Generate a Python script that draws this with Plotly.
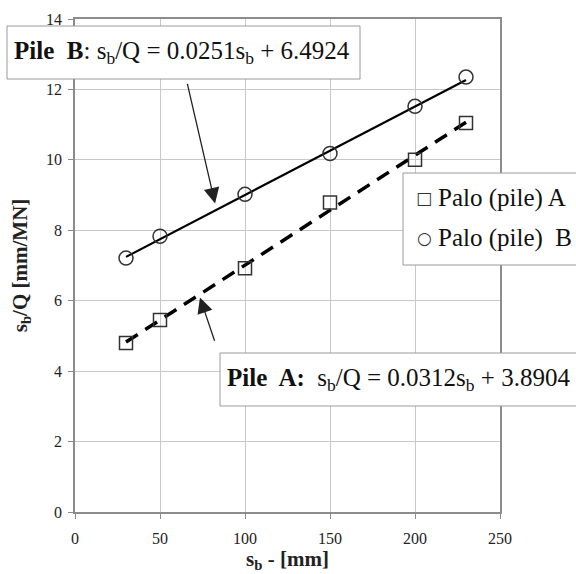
import plotly.graph_objects as go

sb = [30, 50, 100, 150, 200, 230]
pile_a = [4.80, 5.45, 6.92, 8.79, 10.0, 11.05]
pile_b = [7.21, 7.83, 9.02, 10.18, 11.52, 12.35]

# trend-line coefficients as printed on the chart
slope_a, icpt_a = 0.0312, 3.8904
slope_b, icpt_b = 0.0251, 6.4924
trend_x = [30, 230]

x_ticks = [0, 50, 100, 150, 200, 250]
y_ticks = [0, 2, 4, 6, 8, 10, 12, 14]

series_names = ["Palo (pile) A", "Palo (pile)\u00a0 B"]
legend_glyphs = ["\u25a1", "\u25cb"]

FONT = "Liberation Serif"
W, H = 576, 574
L, R, T, B = 75, 76, 19, 62
pw, ph = W - L - R, H - T - B

def px_x(p):
    return (p - L) / pw

def px_y(p):
    return (H - B - p) / ph

fig = go.Figure()

fig.add_trace(go.Scatter(
    x=trend_x, y=[slope_b * v + icpt_b for v in trend_x], mode="lines",
    line=dict(color="black", width=2.2), showlegend=False, hoverinfo="skip"))
fig.add_trace(go.Scatter(
    x=trend_x, y=[slope_a * v + icpt_a for v in trend_x], mode="lines",
    line=dict(color="black", width=3.5, dash="14px,9px"), showlegend=False, hoverinfo="skip"))

fig.add_trace(go.Scatter(
    x=sb, y=pile_a, mode="markers", name=series_names[0], showlegend=False,
    marker=dict(symbol="square-open", size=13, color="#333333", line=dict(width=1.5))))
fig.add_trace(go.Scatter(
    x=sb, y=pile_b, mode="markers", name=series_names[1], showlegend=False,
    marker=dict(symbol="circle-open", size=14, color="#333333", line=dict(width=1.5))))

axis_common = dict(
    showgrid=True, gridcolor="#c8c8c8", gridwidth=1,
    showline=True, linecolor="#8c8c8c", linewidth=1.5, mirror=True,
    ticks="outside", ticklen=5, tickcolor="#8c8c8c",
    tickfont=dict(family=FONT, size=16, color="#222222"),
    zeroline=False, automargin=False,
)

fig.update_xaxes(range=[0, 250], tickvals=x_ticks, ticklabelstandoff=6, **axis_common,
                 title=dict(text="<b>s<sub>b</sub> - [mm]</b>", font=dict(family=FONT, size=21, color="#222222"), standoff=5))
fig.update_yaxes(range=[0, 14], tickvals=y_ticks, ticklabelstandoff=3, **axis_common,
                 title=dict(text="<b>s<sub>b</sub>/Q [mm/MN]</b>", font=dict(family=FONT, size=21, color="#222222"), standoff=13))

# Equation boxes
fig.add_shape(type="rect", xref="paper", yref="paper",
              x0=px_x(7), x1=px_x(360), y0=px_y(79), y1=px_y(26),
              line=dict(color="#9a9a9a", width=1), fillcolor="white", layer="above")
fig.add_shape(type="rect", xref="paper", yref="paper",
              x0=px_x(220), x1=px_x(590), y0=px_y(406), y1=px_y(353),
              line=dict(color="#9a9a9a", width=1), fillcolor="white", layer="above")

fig.add_annotation(xref="paper", yref="paper", x=px_x(12), y=px_y(52.5),
                   xanchor="left", yanchor="middle", showarrow=False,
                   text="<b>Pile\u00a0 B</b>: s<sub>b</sub>/Q = 0.0251s<sub>b</sub> + 6.4924",
                   font=dict(family=FONT, size=25, color="#111111"))
fig.add_annotation(xref="paper", yref="paper", x=px_x(225), y=px_y(379.5),
                   xanchor="left", yanchor="middle", showarrow=False,
                   text="<b>Pile\u00a0 A:</b>\u00a0 s<sub>b</sub>/Q = 0.0312s<sub>b</sub> + 3.8904",
                   font=dict(family=FONT, size=25, color="#111111"))

# Legend (box + entries)
fig.add_shape(type="rect", xref="paper", yref="paper",
              x0=px_x(403), x1=px_x(590), y0=px_y(265), y1=px_y(173),
              line=dict(color="#9a9a9a", width=1), fillcolor="white", layer="above")
for i, (name, glyph) in enumerate(zip(series_names, legend_glyphs)):
    yc = 198 + 40 * i
    fig.add_annotation(xref="paper", yref="paper", x=px_x(424), y=px_y(yc),
                       xanchor="center", yanchor="middle", showarrow=False,
                       text=glyph, font=dict(family="DejaVu Sans", size=17, color="#333333"))
    fig.add_annotation(xref="paper", yref="paper", x=px_x(436), y=px_y(yc),
                       xanchor="left", yanchor="middle", showarrow=False,
                       text=name, font=dict(family=FONT, size=25, color="#111111"))

# Arrows
fig.add_annotation(x=82.4, y=8.76, ax=65.9, ay=12.2, xref="x", yref="y", axref="x", ayref="y",
                   text="", showarrow=True, arrowhead=2, arrowsize=2.4, arrowwidth=1.3, arrowcolor="#222222")
fig.add_annotation(x=73.5, y=6.09, ax=82.4, ay=4.82, xref="x", yref="y", axref="x", ayref="y",
                   text="", showarrow=True, arrowhead=2, arrowsize=2.4, arrowwidth=1.3, arrowcolor="#222222")

fig.update_layout(
    width=W, height=H,
    margin=dict(l=L, r=R, t=T, b=B),
    paper_bgcolor="white", plot_bgcolor="white",
    font=dict(family=FONT, color="#222222"),
    showlegend=False,
)

fig.write_html("out.html")
